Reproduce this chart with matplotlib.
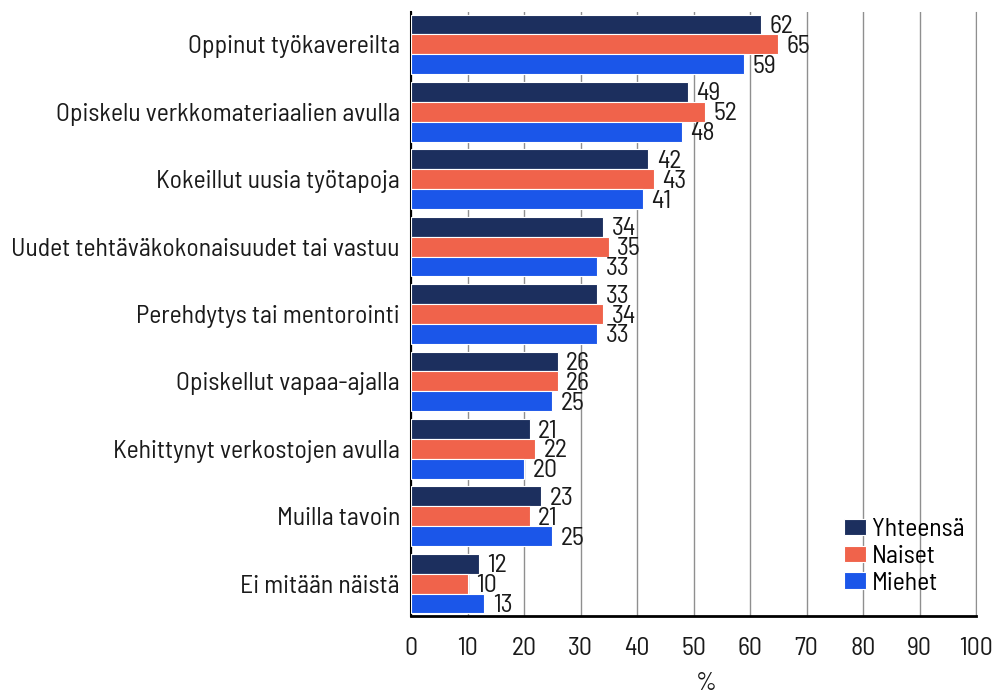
import matplotlib
matplotlib.use("Agg")
import matplotlib.pyplot as plt
import numpy as np
from matplotlib import font_manager

available = {f.name for f in font_manager.fontManager.ttflist}
family = next((f for f in ["Barlow Semi Condensed", "Barlow Condensed", "Barlow",
                           "IBM Plex Sans Condensed", "DejaVu Sans"] if f in available))
plt.rcParams["font.family"] = [family, "DejaVu Sans"]

categories = [
    "Oppinut työkavereilta",
    "Opiskelu verkkomateriaalien avulla",
    "Kokeillut uusia työtapoja",
    "Uudet tehtäväkokonaisuudet tai vastuu",
    "Perehdytys tai mentorointi",
    "Opiskellut vapaa-ajalla",
    "Kehittynyt verkostojen avulla",
    "Muilla tavoin",
    "Ei mitään näistä",
]
yhteensa = [62, 49, 42, 34, 33, 26, 21, 23, 12]
naiset = [65, 52, 43, 35, 34, 26, 22, 21, 10]
miehet = [59, 48, 41, 33, 33, 25, 20, 25, 13]
series_names = ["Yhteensä", "Naiset", "Miehet"]
colors = ["#1c2f5e", "#f0634b", "#1b56e9"]
xticks = list(range(0, 101, 10))

FS = 18.5
TXT = "#1a1a1a"

fig = plt.figure(figsize=(9.92, 6.95), dpi=100)
ax = fig.add_axes([411 / 992, 1 - 616 / 695, (976 - 411) / 992, (616 - 12) / 695])

y = np.arange(len(categories))
h = 0.295
for i, (vals, name, col) in enumerate(zip([yhteensa, naiset, miehet], series_names, colors)):
    pos = y + (i - 1) * h
    ax.barh(pos, vals, height=h, color=col, edgecolor="white", linewidth=0.8,
            label=name, zorder=3)
    for p, v in zip(pos, vals):
        ax.annotate(f"{v}", xy=(v, p), xytext=(6, -1.5), textcoords="offset points",
                    ha="left", va="center", fontsize=FS, color=TXT, zorder=4)

ax.set_xlim(0, 100)
ax.set_ylim(8.48, -0.48)
ax.set_xticks(xticks)
ax.set_xticklabels([str(t) for t in xticks], fontsize=FS)
ax.set_yticks(y)
ax.set_yticklabels(categories, fontsize=FS)
ax.tick_params(axis="x", length=0, pad=15, colors=TXT)
ax.tick_params(axis="y", length=0, pad=8, colors=TXT)
ax.grid(axis="x", color="#8f8f8f", linewidth=1, zorder=0)
ax.spines["top"].set_visible(False)
ax.spines["right"].set_color("#8f8f8f")
ax.spines["left"].set_color("black")
ax.spines["left"].set_linewidth(1.5)
ax.spines["bottom"].set_color("black")
ax.spines["bottom"].set_linewidth(2)

fig.text(706 / 992, 1 - 684 / 695, "%", ha="center", va="center", fontsize=FS, color=TXT)

ax.legend(loc="lower left", bbox_to_anchor=(0.766, 0.035), frameon=False,
          fontsize=FS, handlelength=0.86, handleheight=0.62, handletextpad=0.25,
          labelspacing=0.15, borderaxespad=0, borderpad=0)

fig.savefig("out.png", dpi=100)
